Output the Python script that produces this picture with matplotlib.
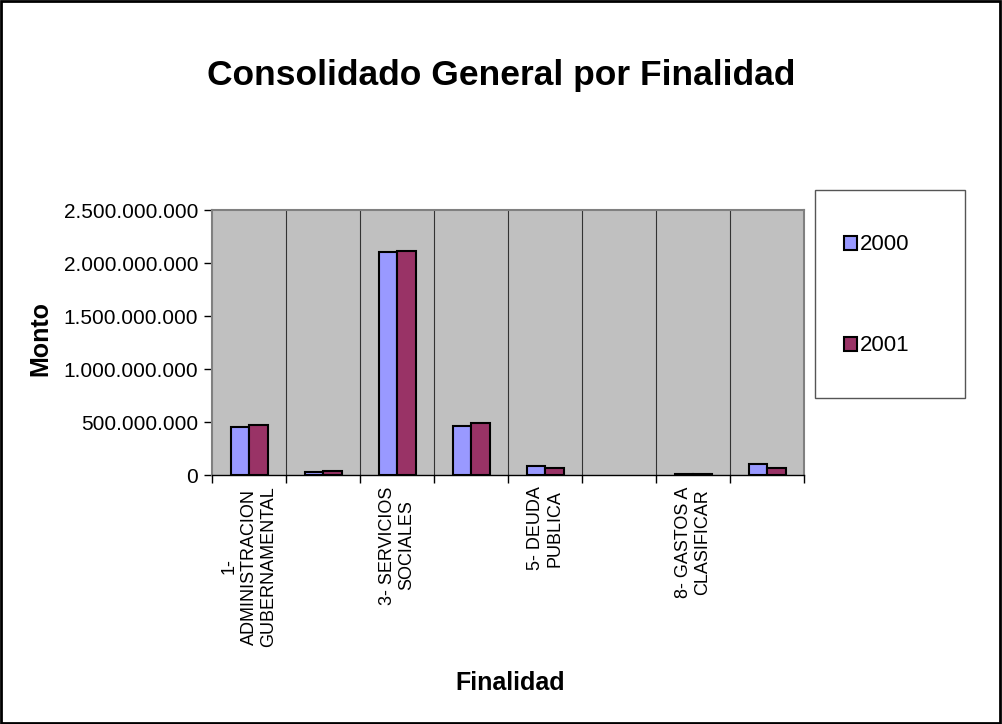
import numpy as np
import matplotlib
matplotlib.use("Agg")
from matplotlib import pyplot as plt
from matplotlib.patches import Rectangle, Patch
from matplotlib.ticker import FuncFormatter, MultipleLocator

plt.rcParams['font.family'] = ['Liberation Sans', 'DejaVu Sans']

# category labels (Excel only shows every other one)
categorias = ['1-\nADMINISTRACION\nGUBERNAMENTAL', '', '3- SERVICIOS\nSOCIALES', '',
              '5- DEUDA\nPUBLICA', '', '8- GASTOS A\nCLASIFICAR', '']
monto_2000 = [455e6, 29e6, 2100e6, 460e6, 87e6, 0, 12e6, 108e6]
monto_2001 = [472e6, 35e6, 2110e6, 490e6, 70e6, 0, 6e6, 64e6]
series = ['2000', '2001']
colores = ['#9999FF', '#993366']

fig = plt.figure(figsize=(10.02, 7.24), dpi=100)
fig.patch.set_facecolor('white')
fig.patches.append(Rectangle((0.001, 0.002), 0.997, 0.996, transform=fig.transFigure,
                             fill=False, edgecolor='black', linewidth=2))

ax = fig.add_axes([0.2116, 0.3439, 0.5908, 0.366])
ax.set_facecolor('#C0C0C0')

x = np.arange(len(categorias))
w = 0.25
b1 = ax.bar(x - w/2, monto_2000, w, color=colores[0], edgecolor='black', linewidth=1.5, zorder=3)
b2 = ax.bar(x + w/2, monto_2001, w, color=colores[1], edgecolor='black', linewidth=1.5, zorder=3)
for r in list(b1) + list(b2):
    if r.get_height() == 0:
        r.set_visible(False)

for b in np.arange(0.5, len(categorias) - 0.5, 1):
    ax.axvline(b, color='#333333', linewidth=0.8, zorder=1)

ax.set_xlim(-0.5, len(categorias) - 0.5)
ax.set_ylim(0, 2.5e9)
ax.yaxis.set_major_locator(MultipleLocator(5e8))
ax.yaxis.set_major_formatter(FuncFormatter(lambda v, p: f"{int(v):,}".replace(",", ".")))

ax.set_xticks(x)
ax.set_xticklabels(categorias, rotation=90, ha='center', va='top', multialignment='center', fontsize=13)
ax.set_xticks(np.arange(-0.5, len(categorias), 1), minor=True)
ax.tick_params(axis='x', which='major', length=0, pad=8)
ax.tick_params(axis='x', which='minor', length=6, width=1, color='black', direction='out')
ax.tick_params(axis='y', length=6, width=1, labelsize=15, direction='out', pad=4)

for s in ['top', 'right', 'left']:
    ax.spines[s].set_color('#808080')
    ax.spines[s].set_linewidth(1.5)
ax.spines['bottom'].set_color('black')
ax.spines['bottom'].set_linewidth(1)

fig.text(0.5, 0.896, 'Consolidado General por Finalidad', ha='center', va='center',
         fontsize=25.5, fontweight='bold')
fig.text(0.04, 0.532, 'Monto', ha='center', va='center', rotation=90,
         fontsize=18, fontweight='bold')
fig.text(0.509, 0.057, 'Finalidad', ha='center', va='center',
         fontsize=18, fontweight='bold')

# legend box
fig.patches.append(Rectangle((0.8134, 0.4503), 0.1497, 0.2873, transform=fig.transFigure,
                             facecolor='white', edgecolor='#555555', linewidth=1))
handles = [Patch(facecolor=c, edgecolor='black', linewidth=1.5) for c in colores]
fig.legend(handles, series, loc='center left', bbox_to_anchor=(0.822, 0.592), frameon=False,
           fontsize=16, handlelength=0.6, handleheight=0.6, handletextpad=0.15,
           labelspacing=3.6)

fig.savefig('out.png', dpi=100)
